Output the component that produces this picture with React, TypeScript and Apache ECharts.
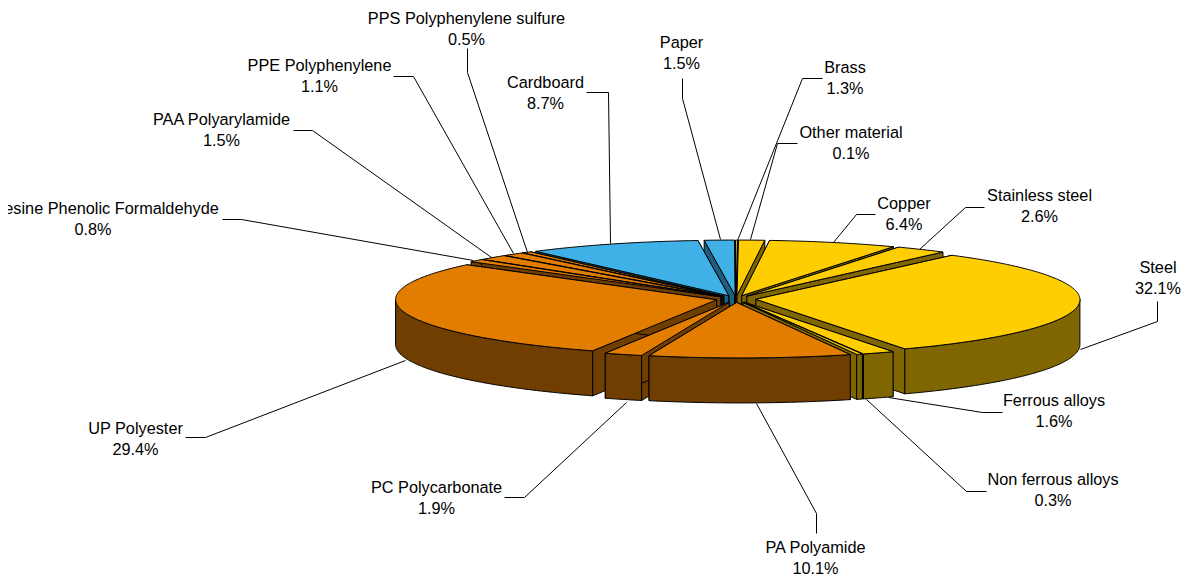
import React, { useEffect, useRef } from "react";
import * as echarts from "echarts";

const names = ["Other material","Brass","Copper","Stainless steel","Steel","Ferrous alloys","Non ferrous alloys","PA Polyamide","PC Polycarbonate","UP Polyester","PF Resine Phenolic Formaldehyde","PAA Polyarylamide","PPE Polyphenylene","PPS Polyphenylene sulfure","Cardboard","Paper"];
const values = [0.1,1.3,6.4,2.6,32.1,1.6,0.3,10.1,1.9,29.4,0.8,1.5,1.1,0.5,8.7,1.5];
const groups = [0,0,0,0,0,0,0,1,1,1,1,1,1,1,2,2];

const topColors = ["#FFCE00","#E37D00","#40B1E6"];
const sideColors = ["#7F6600","#703E00","#1F5F7F"];

// label centre [x, y of first line centre], separate from the values
const labelPos: number[][] = [[851,132],[845,67],[904,203],[1039.5,195],[1158,267],[1054,400],[1053,479],[815.5,546.5],[436.5,487],[135.5,428],[93,208],[221.5,119],[319.5,65],[466.5,18],[545.5,82],[681.5,42]];
const leaders: number[][][] = [
  [[797,143],[777,143],[750,239]],
  [[822,78],[802,78],[737,240]],
  [[875,214],[856,214],[833,242]],
  [[984,207],[965,207],[919,249]],
  [[1157,301],[1157,321],[1080,349]],
  [[1002,412],[982,412],[888,397]],
  [[986,491],[966,491],[866,399]],
  [[816,533],[816,513],[756,403]],
  [[504,497],[524,497],[626,402]],
  [[185,437],[205,437],[405,360]],
  [[222,219],[241,219],[473,260]],
  [[293,130],[312,130],[491,257]],
  [[393,76],[413,76],[513,253]],
  [[467,48],[467,72],[527,252]],
  [[586,92],[608,92],[610,243]],
  [[682,78],[682,98],[720,239]],
];

const CX = 737.5, CY = 299, RX = 322.5, RY = 55.5, DEPTH = 45, EXPLODE = 20, SKEW = 2;
const total = values.reduce((a, b) => a + b, 0);
const starts: number[] = [];
values.reduce((acc, v, i) => { starts[i] = acc; return acc + v; }, 0);
const ang = (p: number) => (p / total) * Math.PI * 2;
const midAngle = (i: number) => ang(starts[i] + values[i] / 2);
const drawOrder = values.map((_, i) => i).sort((a, b) => Math.cos(midAngle(b)) - Math.cos(midAngle(a)));

function renderItem(_: any, api: any) {
  const i = api.value(0), v = api.value(1);
  const a0 = ang(starts[i]), a1 = ang(starts[i] + v), m = (a0 + a1) / 2;
  const ox = CX + EXPLODE * Math.sin(m);
  const oy = CY - EXPLODE * (RY / RX) * Math.cos(m);
  const tx = ox - 1.5;
  const pt = (a: number, d = 0) => [ox + RX * Math.sin(a) - SKEW * Math.cos(a), oy - RY * Math.cos(a) + d];
  const arc = (s: number, e: number, d = 0) => {
    const n = Math.max(2, Math.ceil((e - s) / 0.01));
    const out: number[][] = [];
    for (let k = 0; k <= n; k++) out.push(pt(s + ((e - s) * k) / n, d));
    return out;
  };
  const g = groups[i];
  const side = { fill: sideColors[g], stroke: "#000", lineWidth: 1, lineJoin: "round" };
  const top = { fill: topColors[g], stroke: "#000", lineWidth: 1, lineJoin: "round" };
  const children: any[] = [];
  for (const a of [a0, a1]) {
    const p = pt(a), q = pt(a, DEPTH);
    children.push({ type: "polygon", shape: { points: [[tx, oy], p, q, [tx, oy + DEPTH]] }, style: side });
  }
  const s = Math.max(a0, Math.PI / 2), e = Math.min(a1, (Math.PI * 3) / 2);
  if (e > s) {
    children.push({ type: "polygon", shape: { points: [...arc(s, e), ...arc(s, e, DEPTH).reverse()] }, style: side });
  }
  children.push({ type: "polygon", shape: { points: [[tx, oy], ...arc(a0, a1)] }, style: top });
  return { type: "group", children };
}

export default function App() {
  const ref = useRef<HTMLDivElement>(null);
  useEffect(() => {
    const chart = echarts.init(ref.current!, null, { renderer: "svg" });
    const graphics: any[] = [];
    names.forEach((n, i) => {
      graphics.push({ type: "polyline", silent: true, z: 1, shape: { points: leaders[i].map(([x, y]) => [x + 0.5, y + 0.5]) }, style: { fill: "none", stroke: "#000", lineWidth: 1 } });
      graphics.push({ type: "text", silent: true, z: 5, x: labelPos[i][0], y: labelPos[i][1] - 10.5, style: { text: `${n}\n${values[i].toFixed(1)}%`, fontFamily: "Liberation Sans", fontSize: 16.3, lineHeight: 21, fill: "#000", align: "center", verticalAlign: "top" } });
    });
    chart.setOption({
      animation: false,
      backgroundColor: "#fff",
      graphic: graphics,
      series: [{
        type: "custom",
        coordinateSystem: "none",
        z: 3,
        silent: true,
        renderItem,
        data: drawOrder.map((i) => ({ name: names[i], value: [i, values[i]] })),
      }],
    });
    return () => chart.dispose();
  }, []);
  return (
    <div style={{ position: "absolute", left: 8, top: 0, width: 1173, height: 575, overflow: "hidden", background: "#fff" }}>
      <div ref={ref} style={{ position: "absolute", left: -8, top: 0, width: 1181, height: 575 }} />
    </div>
  );
}
